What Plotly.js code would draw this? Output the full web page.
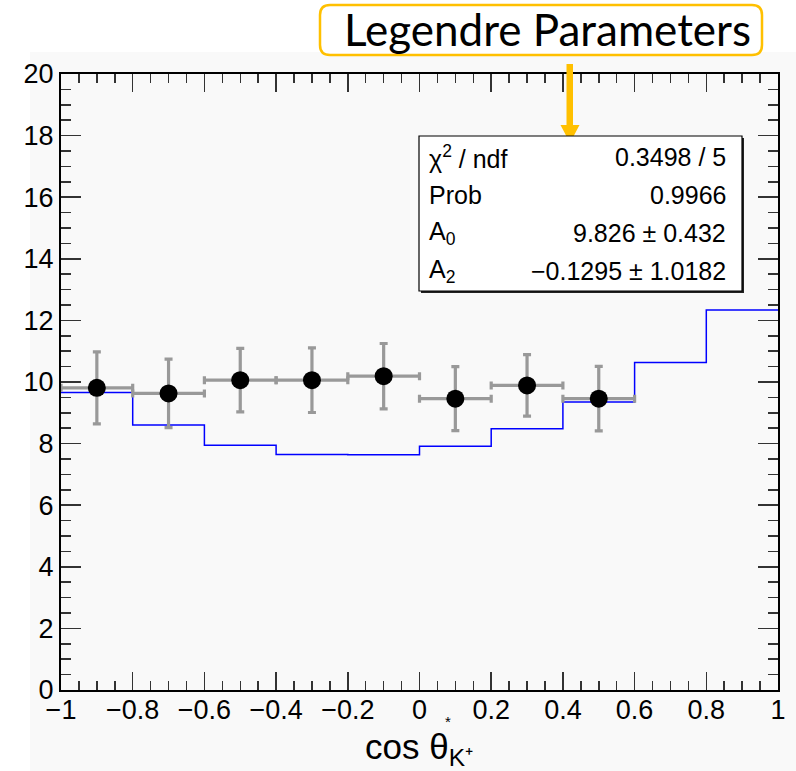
<!DOCTYPE html>
<html>
<head>
<meta charset="utf-8">
<script src="https://cdn.plot.ly/plotly-3.0.1.min.js"></script>
<style>html,body{margin:0;padding:0;background:#fff;}#chart{width:796px;height:771px;}</style>
</head>
<body>
<div id="chart"></div>
<script>
// ---- data ----
const pointX = [-0.9, -0.7, -0.5, -0.3, -0.1, 0.1, 0.3, 0.5];
const pointY = [9.81, 9.63, 10.06, 10.06, 10.19, 9.46, 9.89, 9.46];
const pointErr = [1.17, 1.11, 1.03, 1.05, 1.06, 1.04, 1.00, 1.05];
const pointXErr = [0.1, 0.1, 0.1, 0.1, 0.1, 0.1, 0.1, 0.1];
const binEdges = [-1, -0.8, -0.6, -0.4, -0.2, 0, 0.2, 0.4, 0.6, 0.8, 1];
const binContents = [9.66, 8.60, 7.95, 7.65, 7.64, 7.91, 8.48, 9.35, 10.63, 12.34];
const xTickVals = [-1, -0.8, -0.6, -0.4, -0.2, 0, 0.2, 0.4, 0.6, 0.8, 1];
const yTickVals = [0, 2, 4, 6, 8, 10, 12, 14, 16, 18, 20];
const statLabels = ["χ<sup>2</sup> / ndf", "Prob", "A<sub>0</sub>", "A<sub>2</sub>"];
const statValues = ["0.3498 / 5", "0.9966", "9.826 ± 0.432", "−0.1295 ± 1.0182"];
const titleText = "Legendre Parameters";
const xTitleText = "cos θ<sub>K⁺</sub>";

// ---- layout helpers (pixel -> paper) ----
const L = 61, R = 778, T = 74, B = 690;
const px = v => (v - L) / (R - L);
const py = v => (B - v) / (B - T);

const histTrace = {
  x: binEdges,
  y: binContents.concat([binContents[binContents.length - 1]]),
  type: 'scatter', mode: 'lines',
  line: {shape: 'hv', color: '#0000ff', width: 1.5},
  hoverinfo: 'skip', showlegend: false
};
const pointTrace = {
  x: pointX, y: pointY, type: 'scatter', mode: 'markers',
  marker: {color: '#000', size: 18},
  error_y: {type: 'data', array: pointErr, visible: true, color: '#999999', thickness: 3.2, width: 4},
  error_x: {type: 'data', array: pointXErr, visible: true, color: '#999999', thickness: 3.2, width: 4},
  hoverinfo: 'skip', showlegend: false
};

function roundRect(x0, y0, x1, y1, r) {
  const P = (a, b) => px(a) + ',' + py(b);
  return 'M' + P(x0 + r, y0) + ' L' + P(x1 - r, y0) + ' Q' + P(x1, y0) + ' ' + P(x1, y0 + r) +
    ' L' + P(x1, y1 - r) + ' Q' + P(x1, y1) + ' ' + P(x1 - r, y1) +
    ' L' + P(x0 + r, y1) + ' Q' + P(x0, y1) + ' ' + P(x0, y1 - r) +
    ' L' + P(x0, y0 + r) + ' Q' + P(x0, y0) + ' ' + P(x0 + r, y0) + ' Z';
}
function poly(pts) {
  return 'M' + pts.map(p => px(p[0]) + ',' + py(p[1])).join(' L') + ' Z';
}

const orange = '#FFC000';
const shapes = [
  {type: 'rect', xref: 'paper', yref: 'paper', x0: px(30), x1: px(796), y0: py(771), y1: py(52),
   fillcolor: '#f9f9f9', line: {width: 0}, layer: 'below'},
  {type: 'path', xref: 'paper', yref: 'paper', path: roundRect(320, 5, 762, 55, 10),
   fillcolor: '#ffffff', line: {color: orange, width: 2.5}},
  {type: 'path', xref: 'paper', yref: 'paper', path: poly([[566.5, 64], [573, 64], [573, 126], [566.5, 126]]),
   fillcolor: orange, line: {width: 0}},
  {type: 'path', xref: 'paper', yref: 'paper', path: poly([[560.5, 125], [579.5, 125], [570, 143]]),
   fillcolor: orange, line: {width: 0}},
  {type: 'rect', xref: 'paper', yref: 'paper', x0: px(421), x1: px(744), y0: py(293), y1: py(138),
   fillcolor: '#222', line: {width: 0}},
  {type: 'rect', xref: 'paper', yref: 'paper', x0: px(419), x1: px(742), y0: py(291), y1: py(136),
   fillcolor: '#ffffff', line: {color: '#000', width: 1.2}}
];

const sans = '"Liberation Sans", Arial, Helvetica, sans-serif';
const rowY = [157, 195, 233, 271];
const annotations = [];
statLabels.forEach((t, i) => {
  annotations.push({xref: 'paper', yref: 'paper', x: px(427), y: py(rowY[i]), xanchor: 'left', yanchor: 'middle',
    text: t, showarrow: false, font: {family: sans, size: 25, color: '#000'}});
  annotations.push({xref: 'paper', yref: 'paper', x: px(728), y: py(rowY[i]), xanchor: 'right', yanchor: 'middle',
    text: statValues[i], showarrow: false, font: {family: sans, size: 25, color: '#000'}});
});
annotations.push({xref: 'paper', yref: 'paper', x: px(547), y: py(29), xanchor: 'center', yanchor: 'middle',
  text: titleText, showarrow: false, font: {family: 'Lato, "Open Sans", sans-serif', size: 44, color: '#000'}});
annotations.push({xref: 'paper', yref: 'paper', x: px(419), y: py(749), xanchor: 'center', yanchor: 'middle',
  text: xTitleText, showarrow: false,
  font: {family: '"Liberation Sans Narrow", "Liberation Sans", Arial, sans-serif', size: 35, color: '#000'}});
annotations.push({xref: 'paper', yref: 'paper', x: px(448), y: py(721), xanchor: 'center', yanchor: 'middle',
  text: '*', showarrow: false, font: {family: sans, size: 15, color: '#000'}});

const axisCommon = {
  showgrid: false, zeroline: false, showline: true, linecolor: '#000', linewidth: 2,
  mirror: 'allticks', ticks: 'inside', tickcolor: '#333', tickwidth: 1.5, ticklen: 18,
  tickfont: {family: sans, size: 27, color: '#000'}
};

const layout = {
  width: 796, height: 771,
  margin: {l: L, r: 796 - R, t: T, b: 771 - B, pad: 0},
  paper_bgcolor: '#ffffff', plot_bgcolor: '#f9f9f9',
  showlegend: false,
  xaxis: Object.assign({}, axisCommon, {
    range: [-1, 1], tickmode: 'array', tickvals: xTickVals, ticklabelstandoff: -5,
    minor: {dtick: 0.05, ticks: 'inside', ticklen: 9, tickcolor: '#333', tickwidth: 1.5}
  }),
  yaxis: Object.assign({}, axisCommon, {
    range: [0, 20], tickmode: 'array', tickvals: yTickVals, ticklen: 20,
    minor: {dtick: 0.5, ticks: 'inside', ticklen: 10, tickcolor: '#333', tickwidth: 1.5}
  }),
  shapes: shapes,
  annotations: annotations
};

Plotly.newPlot('chart', [histTrace, pointTrace], layout, {displayModeBar: false, staticPlot: true});
</script>
</body>
</html>
